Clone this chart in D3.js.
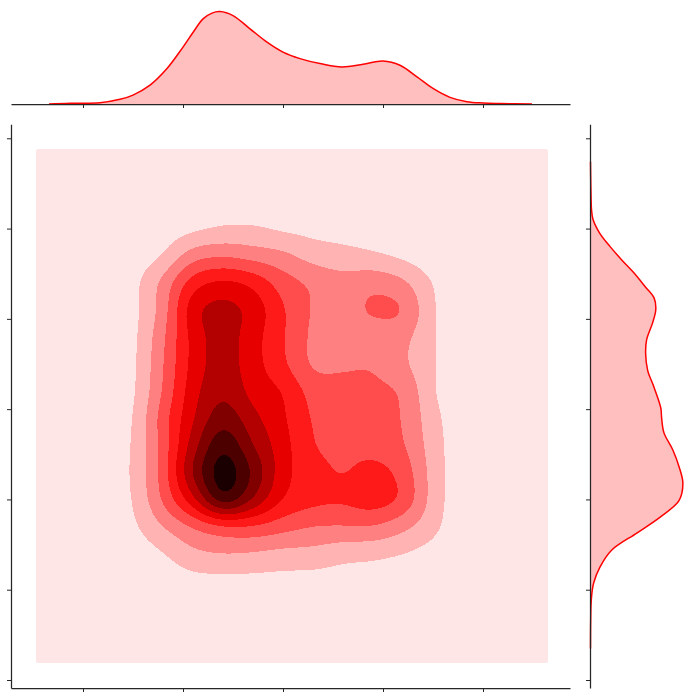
<!DOCTYPE html>
<html>
<head>
<meta charset="utf-8">
<script src="https://cdn.jsdelivr.net/npm/d3@7"></script>
<style>
  body { margin: 0; background: #fff; }
  svg { display: block; background: #fff; }
</style>
</head>
<body>
<svg id="chart" width="693" height="699"></svg>
<script>
// tick positions (the original hides the tick labels)
var xTicks = [0, 1, 2, 3, 4],
    yTicks = [0, 1, 2, 3, 4, 5, 6];

// joint density on a coarse grid (rows go top -> bottom)
var gridX = [0.2, 0.5, 0.8, 1.1, 1.4, 1.7, 2.0, 2.3, 2.6, 2.9, 3.2, 3.5, 3.8];
var gridY = [5.3, 5.0, 4.7, 4.4, 4.1, 3.8, 3.5, 3.2, 2.9, 2.6, 2.3, 2.0, 1.7, 1.4, 1.1, 0.8];
var density = [
  [0,    0.05, 0.12, 0.33, 0.45, 0.45, 0.4,  0.35, 0.3,  0.25, 0.15, 0.05, 0],
  [0,    0.15, 0.45, 0.8,  1.1,  1.1,  0.85, 0.7,  0.6,  0.5,  0.35, 0.15, 0],
  [0.05, 0.4,  1.05, 2.55, 2.9,  2.6,  2.25, 1.6,  1.35, 1.15, 0.8,  0.35, 0.05],
  [0.1,  0.7,  2.3,  4.5,  5.2,  4.7,  3.5,  2.8,  2.4,  2.7,  2.2,  0.95, 0.15],
  [0.1,  0.7,  2.5,  5.6,  6.35, 5.6,  4.1,  2.9,  2.6,  3.15, 3.0,  1.1,  0.2],
  [0.1,  0.75, 2.8,  5.35, 6.45, 5.4,  4.1,  2.8,  2.55, 2.5,  2.3,  1.1,  0.2],
  [0.1,  0.8,  2.95, 5.35, 6.45, 5.4,  4.2,  2.85, 2.85, 2.9,  2.2,  1.1,  0.2],
  [0.1,  0.85, 3.1,  5.6,  6.8,  5.65, 4.95, 3.6,  3.35, 3.2,  2.85, 1.1,  0.2],
  [0.15, 1.0,  3.5,  5.9,  7.6,  6.3,  5.15, 3.9,  3.5,  3.4,  2.95, 1.35, 0.3],
  [0.15, 1.1,  3.4,  6.5,  8.75, 7.0,  5.4,  4.05, 3.7,  3.6,  3.1,  1.5,  0.3],
  [0.2,  1.15, 3.45, 7.1,  9.55, 7.8,  5.4,  4.4,  3.95, 4.35, 3.6,  1.6,  0.3],
  [0.15, 1.05, 3.15, 5.7,  8.6,  6.9,  4.95, 4.3,  4.15, 4.5,  3.75, 1.6,  0.3],
  [0.1,  0.8,  2.0,  3.1,  3.9,  3.9,  3.4,  3.0,  2.95, 2.95, 2.3,  1.3,  0.2],
  [0.05, 0.4,  0.95, 1.75, 2.0,  1.9,  1.7,  1.65, 1.35, 1.25, 1.0,  0.6,  0.1],
  [0,    0.15, 0.45, 0.7,  0.75, 0.75, 0.7,  0.65, 0.6,  0.55, 0.4,  0.2,  0.05],
  [0,    0.05, 0.2,  0.3,  0.35, 0.35, 0.3,  0.3,  0.25, 0.25, 0.15, 0.05, 0]
];
// extent of the kde grid (the palest layer)
var kdeX = [-0.47, 4.65],
    kdeY = [0.19, 5.88];

var levels = [0, 1, 2, 3, 4, 5, 6, 7, 8, 9];
var levelColors = ['#ffe6e6', '#ffb3b3', '#ff8080', '#ff4d4d', '#ff1a1a',
                   '#e60000', '#b30000', '#800000', '#4d0000', '#1a0000'];

// marginal densities
var topX = [-0.34, -0.13, 0.17, 0.37, 0.50, 0.67, 0.84, 1.00, 1.10, 1.20, 1.29, 1.37, 1.50, 1.67, 1.84,
            2.00, 2.17, 2.37, 2.59, 2.80, 3.00, 3.17, 3.34, 3.50, 3.67, 3.84, 4.00, 4.17, 4.49];
var topDensity = [0.000, 0.008, 0.013, 0.047, 0.090, 0.190, 0.357, 0.573, 0.720, 0.857, 0.915, 0.930, 0.890, 0.757, 0.623,
                  0.523, 0.457, 0.407, 0.373, 0.400, 0.433, 0.390, 0.273, 0.157, 0.067, 0.023, 0.010, 0.005, 0.000];
var rightY = [5.74, 5.48, 5.32, 5.21, 5.10, 4.95, 4.80, 4.65, 4.51, 4.35, 4.23, 4.10, 3.95, 3.77, 3.62, 3.43,
              3.25, 3.01, 2.91, 2.74, 2.55, 2.36, 2.18, 1.99, 1.81, 1.63, 1.44, 1.25, 1.07, 0.89, 0.67, 0.35];
var rightDensity = [0.000, 0.003, 0.006, 0.010, 0.025, 0.090, 0.193, 0.310, 0.427, 0.543, 0.627, 0.643, 0.610, 0.553, 0.543, 0.563,
                    0.623, 0.693, 0.700, 0.723, 0.810, 0.873, 0.910, 0.873, 0.693, 0.460, 0.210, 0.093, 0.030, 0.008, 0.002, 0.000];

var svg = d3.select('#chart');

// main axes box
var x = d3.scaleLinear().domain([-0.72, 4.87]).range([11, 570]),
    y = d3.scaleLinear().domain([-0.0886, 6.155]).range([688, 124.3]);

// ---- joint kde as filled contours ----
var nx = 256, ny = 284;

function catmull(p0, p1, p2, p3, t) {
  return 0.5 * (2 * p1 + (p2 - p0) * t + (2 * p0 - 5 * p1 + 4 * p2 - p3) * t * t + (3 * p1 - p0 - 3 * p2 + p3) * t * t * t);
}
function node(r, c) {
  if (r < 0 || r >= density.length || c < 0 || c >= gridX.length) return 0;
  return density[r][c];
}
function sample(xv, yv) {
  var u = (xv - gridX[0]) / (gridX[1] - gridX[0]),
      v = (gridY[0] - yv) / (gridY[0] - gridY[1]);
  var c = Math.floor(u), r = Math.floor(v);
  var tu = u - c, tv = v - r;
  var col = [];
  for (var j = -1; j <= 2; j++) {
    col.push(catmull(node(r + j, c - 1), node(r + j, c), node(r + j, c + 1), node(r + j, c + 2), tu));
  }
  return Math.max(0, catmull(col[0], col[1], col[2], col[3], tv));
}

var values = new Array(nx * ny);
for (var j = 0; j < ny; j++) {
  for (var i = 0; i < nx; i++) {
    var xv = kdeX[0] + (i + 0.5) * (kdeX[1] - kdeX[0]) / nx,
        yv = kdeY[1] - (j + 0.5) * (kdeY[1] - kdeY[0]) / ny;
    values[j * nx + i] = sample(xv, yv);
  }
}

// light gaussian smoothing so the bands come out round like a kde
function blur(v, w, h, s) {
  var rad = Math.ceil(3 * s), k = [], sum = 0;
  for (var t = -rad; t <= rad; t++) { var e = Math.exp(-t * t / (2 * s * s)); k.push(e); sum += e; }
  k = k.map(function(e) { return e / sum; });
  var tmp = new Array(w * h), out = new Array(w * h);
  for (var r = 0; r < h; r++) for (var c = 0; c < w; c++) {
    var acc = 0;
    for (var t = -rad; t <= rad; t++) acc += k[t + rad] * v[r * w + Math.min(w - 1, Math.max(0, c + t))];
    tmp[r * w + c] = acc;
  }
  for (var r = 0; r < h; r++) for (var c = 0; c < w; c++) {
    var acc = 0;
    for (var t = -rad; t <= rad; t++) acc += k[t + rad] * tmp[Math.min(h - 1, Math.max(0, r + t)) * w + c];
    out[r * w + c] = acc;
  }
  return out;
}
values = blur(values, nx, ny, 3);

var contours = d3.contours().size([nx, ny]).thresholds(levels)(values);

var proj = d3.geoTransform({
  point: function(gx, gy) {
    this.stream.point(
      x(kdeX[0] + gx * (kdeX[1] - kdeX[0]) / nx),
      y(kdeY[1] - gy * (kdeY[1] - kdeY[0]) / ny));
  }
});

svg.append('g')
  .selectAll('path')
  .data(contours)
  .enter().append('path')
    .attr('d', d3.geoPath(proj))
    .attr('fill', function(d, i) { return levelColors[i]; })
    .attr('shape-rendering', 'crispEdges');

// ---- top marginal ----
var topY = d3.scaleLinear().domain([0, d3.max(topDensity) * 1.05]).range([104, 7]);
var topData = d3.zip(topX, topDensity);

svg.append('path')
  .datum(topData)
  .attr('fill', '#ff0000')
  .attr('fill-opacity', 0.25)
  .attr('d', d3.area()
    .x(function(d) { return x(d[0]); })
    .y0(topY(0))
    .y1(function(d) { return topY(d[1]); })
    .curve(d3.curveCatmullRom.alpha(0.5)));

svg.append('path')
  .datum(topData)
  .attr('fill', 'none')
  .attr('stroke', '#ff0000')
  .attr('stroke-width', 1.5)
  .attr('d', d3.line()
    .x(function(d) { return x(d[0]); })
    .y(function(d) { return topY(d[1]); })
    .curve(d3.curveCatmullRom.alpha(0.5)));

// ---- right marginal ----
var rightX = d3.scaleLinear().domain([0, d3.max(rightDensity) * 1.05]).range([590.5, 687.5]);
var rightData = d3.zip(rightY, rightDensity);

svg.append('path')
  .datum(rightData)
  .attr('fill', '#ff0000')
  .attr('fill-opacity', 0.25)
  .attr('d', d3.area()
    .y(function(d) { return y(d[0]); })
    .x0(rightX(0))
    .x1(function(d) { return rightX(d[1]); })
    .curve(d3.curveCatmullRom.alpha(0.5)));

svg.append('path')
  .datum(rightData)
  .attr('fill', 'none')
  .attr('stroke', '#ff0000')
  .attr('stroke-width', 1.5)
  .attr('d', d3.line()
    .y(function(d) { return y(d[0]); })
    .x(function(d) { return rightX(d[1]); })
    .curve(d3.curveCatmullRom.alpha(0.5)));

// ---- spines and ticks (no labels) ----
function styleAxis(g) {
  g.attr('color', '#262626');
  g.select('.domain').attr('stroke-width', 1.25);
  g.selectAll('.tick line').attr('stroke-width', 1);
}

svg.append('g')
  .attr('transform', 'translate(0,688)')
  .call(d3.axisBottom(x).tickValues(xTicks).tickFormat('').tickSize(4).tickSizeOuter(0))
  .call(styleAxis);

svg.append('g')
  .attr('transform', 'translate(11,0)')
  .call(d3.axisLeft(y).tickValues(yTicks).tickFormat('').tickSize(4).tickSizeOuter(0))
  .call(styleAxis);

svg.append('g')
  .attr('transform', 'translate(0,104)')
  .call(d3.axisBottom(x).tickValues(xTicks).tickFormat('').tickSize(4).tickSizeOuter(0))
  .call(styleAxis);

svg.append('g')
  .attr('transform', 'translate(590,0)')
  .call(d3.axisLeft(y).tickValues(yTicks).tickFormat('').tickSize(4).tickSizeOuter(0))
  .call(styleAxis);
</script>
</body>
</html>
